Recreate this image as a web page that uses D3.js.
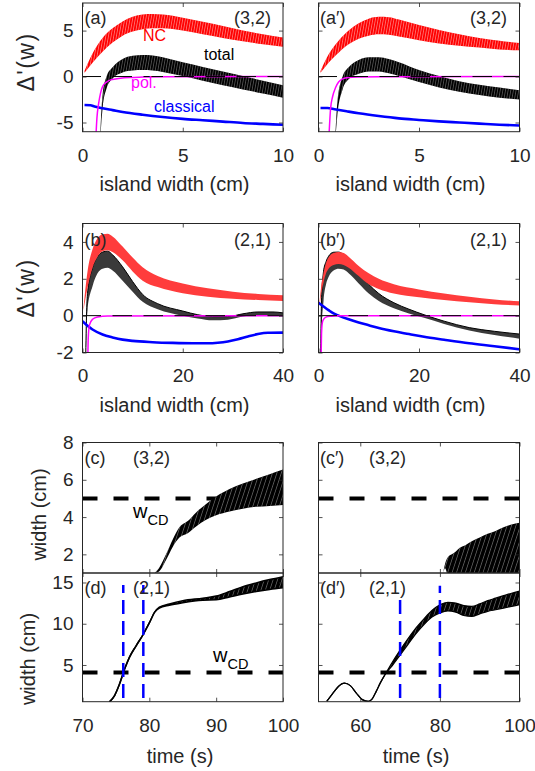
<!DOCTYPE html>
<html>
<head>
<meta charset="utf-8">
<script src="https://cdn.jsdelivr.net/npm/d3@7"></script>
<style>
  body { margin: 0; background: #fff; }
  svg text { font-family: "Liberation Sans", Arial, Helvetica, sans-serif; fill: #262626; }
</style>
</head>
<body>
<svg id="fig" width="535" height="771"></svg>
<script>
// ---------------- (a) (3,2) mode, model 1 : Δ'(w) vs island width ----------------
const a_nc_w   = [0.1, 0.5, 1, 1.5, 2, 2.5, 3, 3.5, 4, 5, 6, 7, 8, 9, 10];
const a_nc_hi  = [0.6, 2.5, 4.2, 5.25, 6.0, 6.5, 6.75, 6.8, 6.75, 6.4, 5.95, 5.5, 5.0, 4.6, 4.25];
const a_nc_lo  = [0.4, 1.5, 2.7, 3.7, 4.45, 4.9, 5.15, 5.25, 5.25, 5.0, 4.6, 4.2, 3.85, 3.5, 3.25];
const a_tot_w  = [0.85, 1.0, 1.2, 1.5, 2, 2.5, 3, 3.5, 4, 5, 6, 7, 8, 9, 10];
const a_tot_hi = [-8, -2, 0, 1.0, 1.9, 2.25, 2.35, 2.3, 2.1, 1.55, 1.05, 0.55, 0.05, -0.45, -0.95];
const a_tot_lo = [-8, -3.5, -1.3, -0.2, 0.45, 0.65, 0.7, 0.65, 0.5, 0.05, -0.45, -0.95, -1.4, -1.85, -2.3];
const a_pol_w  = [0.67, 0.72, 0.8, 0.9, 1.0, 1.2, 1.4, 1.9, 2.5, 3, 4, 10];
const a_pol    = [-6.5, -4.5, -3.0, -1.8, -1.1, -0.6, -0.36, -0.18, -0.1, -0.05, -0.02, 0];
const a_cl_w   = [0.1, 0.4, 0.6, 1, 1.5, 2, 3, 4, 5, 6, 7, 8, 9, 10];
const a_cl     = [-3.1, -3.12, -3.25, -3.45, -3.65, -3.85, -4.15, -4.4, -4.6, -4.75, -4.9, -5.05, -5.15, -5.25];

// ---------------- (a') (3,2) mode, model 2 ----------------
const ap_nc_w   = [0.1, 0.5, 1, 1.5, 2, 2.5, 3, 3.5, 4, 5, 6, 7, 8, 9, 10];
const ap_nc_hi  = [0.6, 2.4, 3.9, 5.0, 5.8, 6.3, 6.5, 6.45, 6.2, 5.6, 5.05, 4.6, 4.2, 3.9, 3.65];
const ap_nc_lo  = [0.4, 1.5, 2.6, 3.5, 4.1, 4.45, 4.6, 4.55, 4.35, 3.95, 3.6, 3.35, 3.15, 2.95, 2.85];
const ap_tot_w  = [0.8, 0.95, 1.2, 1.5, 2, 2.5, 3, 3.5, 4, 5, 6, 7, 8, 9, 10];
const ap_tot_hi = [-8, -2.5, 0, 1.0, 1.8, 2.1, 2.1, 1.9, 1.55, 0.7, 0.05, -0.5, -0.9, -1.2, -1.5];
const ap_tot_lo = [-8, -4, -1.4, -0.3, 0.3, 0.55, 0.55, 0.35, 0.05, -0.6, -1.2, -1.65, -2.0, -2.3, -2.5];
const ap_pol_w  = [0.52, 0.6, 0.7, 0.85, 1.0, 1.2, 1.5, 2, 3, 10];
const ap_pol    = [-6.5, -3.5, -2.2, -1.2, -0.6, -0.25, -0.1, -0.05, -0.02, 0];
const ap_cl_w   = [0.1, 0.45, 0.8, 1.4, 2, 3, 4, 5, 6, 7, 8, 9, 10];
const ap_cl     = [-3.42, -3.42, -3.55, -3.78, -4.0, -4.3, -4.55, -4.72, -4.88, -5.0, -5.12, -5.24, -5.33];

// ---------------- (b) (2,1) mode, model 1 ----------------
const b_nc_w   = [0.2, 1, 2, 3, 4, 5, 6, 8, 10, 12, 15, 20, 25, 30, 35, 40];
const b_nc_hi  = [0.4, 2.4, 3.6, 4.2, 4.42, 4.45, 4.3, 3.75, 3.15, 2.62, 2.15, 1.75, 1.48, 1.3, 1.18, 1.1];
const b_nc_lo  = [0.3, 1.5, 2.6, 3.2, 3.5, 3.55, 3.45, 3.0, 2.4, 1.9, 1.55, 1.22, 1.03, 0.92, 0.85, 0.8];
const b_tot_w  = [0.6, 0.8, 1, 2, 3, 4, 5, 6, 8, 10, 12, 15, 20, 23, 26, 29, 32, 35, 38, 40];
const b_tot_hi = [-3, 0, 1.2, 2.6, 3.2, 3.45, 3.5, 3.3, 2.65, 1.85, 1.15, 0.65, 0.25, 0.05, -0.05, -0.05, 0.1, 0.2, 0.2, 0.15];
const b_tot_lo = [-3, -0.8, 0.3, 1.6, 2.3, 2.55, 2.6, 2.45, 1.9, 1.3, 0.75, 0.35, 0.0, -0.15, -0.25, -0.22, -0.05, 0.03, 0.03, 0.0];
const b_pol_w  = [1.05, 1.15, 1.4, 2, 3, 5, 40];
const b_pol    = [-2.5, -1.2, -0.5, -0.2, -0.07, -0.02, 0];
const b_cl_w   = [0, 1, 2, 4, 6, 8, 10, 14, 18, 22, 25, 27, 29, 31, 33, 35, 37, 40];
const b_cl     = [-0.3, -0.55, -0.75, -1.02, -1.18, -1.3, -1.37, -1.44, -1.48, -1.5, -1.5, -1.47, -1.4, -1.28, -1.13, -1.0, -0.93, -0.92];

// ---------------- (b') (2,1) mode, model 2 ----------------
const bp_nc_w   = [0.2, 0.5, 1, 1.5, 2, 3, 4, 5, 6, 8, 10, 12, 15, 20, 25, 30, 35, 40];
const bp_nc_hi  = [0.7, 1.5, 2.3, 2.85, 3.15, 3.4, 3.45, 3.4, 3.2, 2.7, 2.3, 2.0, 1.7, 1.42, 1.2, 1.02, 0.88, 0.78];
const bp_nc_lo  = [0.5, 1.1, 1.8, 2.3, 2.55, 2.75, 2.8, 2.75, 2.6, 2.15, 1.7, 1.45, 1.2, 1.0, 0.85, 0.72, 0.62, 0.55];
const bp_tot_w  = [0.4, 0.6, 1, 1.5, 2, 3, 4, 5, 6, 8, 10, 12, 15, 18, 21, 25, 30, 35, 40];
const bp_tot_hi = [-3, 0.8, 2.4, 2.93, 3.22, 3.44, 3.45, 3.3, 3.05, 2.35, 1.7, 1.2, 0.7, 0.35, 0.05, -0.3, -0.65, -0.85, -1.0];
const bp_tot_lo = [-3, -1, 0.8, 1.7, 2.1, 2.45, 2.55, 2.5, 2.3, 1.75, 1.2, 0.8, 0.4, 0.12, -0.12, -0.45, -0.8, -1.05, -1.25];
const bp_pol_w  = [0.5, 0.6, 0.75, 1, 1.5, 2.5, 4, 40];
const bp_pol    = [-2.5, -1.0, -0.4, -0.2, -0.08, -0.03, 0, 0];
const bp_cl_w   = [0, 1, 2, 3, 4, 6, 8, 10, 12, 15, 18, 21, 25, 30, 35, 40];
const bp_cl     = [0.7, 0.5, 0.3, 0.12, 0.0, -0.2, -0.37, -0.52, -0.67, -0.85, -1.0, -1.15, -1.31, -1.5, -1.66, -1.83];

// ---------------- (c), (c') (3,2) island width vs time ----------------
const c_t   = [80.8, 81.5, 82.5, 83.5, 84.5, 85.8, 87, 88.5, 90, 92, 94, 96, 98, 100];
const c_hi  = [1.0, 1.3, 2.0, 2.8, 3.45, 3.8, 4.25, 4.7, 5.1, 5.5, 5.8, 6.05, 6.3, 6.55];
const c_lo  = [1.0, 1.1, 1.7, 2.4, 2.9, 3.15, 3.5, 3.85, 4.1, 4.3, 4.45, 4.55, 4.6, 4.65];
const cp_t  = [80.8, 81.3, 82, 83, 84, 85, 86.5, 88, 90, 92, 94, 96, 98, 100];
const cp_hi = [1.0, 1.5, 1.85, 2.0, 2.15, 2.35, 2.5, 2.7, 2.9, 3.1, 3.25, 3.45, 3.6, 3.7];
const cp_lo = [1.0, 1.25, 0.9, 0.9, 0.9, 0.9, 0.9, 0.9, 0.9, 0.9, 0.9, 0.9, 0.9, 0.9];
const c_wcd = 5;

// ---------------- (d), (d') (2,1) island width vs time ----------------
const d_t   = [74, 74.8, 75.5, 76.3, 77, 78, 79, 80, 80.8, 81.5, 83, 85, 88, 90, 92, 94, 96, 98, 100];
const d_hi  = [0.5, 1.3, 2.6, 4.5, 5.9, 7.3, 8.6, 10.1, 11.4, 12.0, 12.4, 12.8, 13.1, 13.35, 13.9, 14.5, 14.95, 15.35, 15.7];
const d_lo  = [0.5, 1.3, 2.6, 4.5, 5.9, 7.3, 8.6, 10.1, 11.4, 11.9, 12.25, 12.55, 12.85, 12.9, 13.25, 13.6, 13.9, 14.15, 14.35];
const dp_t  = [51.6, 53, 54.5, 56, 57.5, 59, 60.5, 62, 63, 64, 65, 66.3, 68, 70, 72, 74, 76, 78, 80, 82, 84, 86, 88, 90, 92, 94, 96, 98, 100];
const dp_hi = [0.6, 1.5, 2.4, 2.8, 2.5, 1.6, 0.8, 0.6, 0.9, 1.8, 2.8, 3.9, 5.3, 6.8, 8.2, 9.5, 10.6, 11.6, 12.3, 12.6, 12.5, 12.2, 12.1, 12.4, 12.8, 13.1, 13.4, 13.7, 13.95];
const dp_lo = [0.6, 1.5, 2.4, 2.8, 2.5, 1.6, 0.8, 0.6, 0.9, 1.8, 2.8, 3.9, 4.9, 6.2, 7.5, 8.8, 9.9, 10.8, 11.3, 11.55, 11.4, 11.0, 10.9, 11.2, 11.5, 11.7, 11.9, 12.1, 12.3];
const d_wcd = 4.1;
const d_marks   = [76.1, 79.1];   // blue markers, left
const dp_marks  = [70, 80];       // blue markers, right
const d_mark_lo = 1.0, d_mark_hi = [14.7, 14.7], dp_mark_hi = [13.5, 14.6];

// ---------------- tick values ----------------
const tickW_a = [0, 5, 10], tickD_a = [-5, 0, 5];
const tickW_b = [0, 20, 40], tickD_b = [-2, 0, 2, 4];
const tickT_L = [70, 80, 90, 100], tickT_R = [60, 80, 100];
const tickW_c = [2, 4, 6, 8], tickW_d = [5, 10, 15];

// ---------------- layout ----------------
const COL_L = [82.5, 283], COL_R = [318.5, 519.5];
const ROW_A = [3, 131.7], ROW_B = [223.5, 352.5], ROW_C = [442.5, 573], ROW_D = [573, 701.7];
const INK = "#262626";
const FONT = '"Liberation Sans", Arial, Helvetica, sans-serif';

const svg = d3.select("#fig");
const defs = svg.append("defs");

function hatch(id, period, angle, color, op, sw) {
  const pat = defs.append("pattern").attr("id", id)
    .attr("patternUnits", "userSpaceOnUse")
    .attr("width", period).attr("height", period)
    .attr("patternTransform", `rotate(${angle})`);
  pat.append("line")
    .attr("x1", period / 2).attr("x2", period / 2)
    .attr("y1", -1).attr("y2", period + 1)
    .attr("stroke", color).attr("stroke-opacity", op).attr("stroke-width", sw);
}
hatch("hRed", 2.6, 10, "#ffffff", 0.55, 0.7);
hatch("hBlk", 2.6, 10, "#ffffff", 0.45, 0.6);
hatch("hTime", 4.2, 18, "#bbbbbb", 0.8, 0.5);

let clipN = 0;
function panel(cols, rows, xd, yd) {
  const [x0, x1] = cols, [y0, y1] = rows;
  const x = d3.scaleLinear().domain(xd).range([x0, x1]);
  const y = d3.scaleLinear().domain(yd).range([y1, y0]);
  const id = "clip" + (clipN++);
  defs.append("clipPath").attr("id", id).append("rect")
    .attr("x", x0).attr("y", y0).attr("width", x1 - x0).attr("height", y1 - y0);
  const g = svg.append("g");
  const plot = g.append("g").attr("clip-path", `url(#${id})`);
  return { x, y, g, plot, x0, x1, y0, y1 };
}

function band(p, xs, hi, lo, fill, pat, edge) {
  const rows = xs.map((v, i) => ({ x: v, hi: hi[i], lo: lo[i] }));
  const area = d3.area().x(d => p.x(d.x)).y0(d => p.y(d.lo)).y1(d => p.y(d.hi))
    .curve(d3.curveMonotoneX);
  p.plot.append("path").datum(rows).attr("d", area).attr("fill", fill);
  if (pat) p.plot.append("path").datum(rows).attr("d", area).attr("fill", `url(#${pat})`);
  if (edge) {
    const top = d3.line().x(d => p.x(d.x)).y(d => p.y(d.hi)).curve(d3.curveMonotoneX);
    const bot = d3.line().x(d => p.x(d.x)).y(d => p.y(d.lo)).curve(d3.curveMonotoneX);
    p.plot.append("path").datum(rows).attr("d", top).attr("fill", "none")
      .attr("stroke", edge.color).attr("stroke-width", edge.width);
    if (edge.both) p.plot.append("path").datum(rows).attr("d", bot).attr("fill", "none")
      .attr("stroke", edge.color).attr("stroke-width", edge.width);
  }
}

function curve(p, xs, ys, color, width) {
  const rows = xs.map((v, i) => ({ x: v, y: ys[i] }));
  p.plot.append("path").datum(rows)
    .attr("d", d3.line().x(d => p.x(d.x)).y(d => p.y(d.y)).curve(d3.curveMonotoneX))
    .attr("fill", "none").attr("stroke", color).attr("stroke-width", width)
    .attr("stroke-linejoin", "round");
}

function hline(p, v, color, width, dash, offset) {
  p.plot.append("line")
    .attr("x1", p.x0).attr("x2", p.x1).attr("y1", p.y(v)).attr("y2", p.y(v))
    .attr("stroke", color).attr("stroke-width", width)
    .attr("stroke-dasharray", dash || null).attr("stroke-dashoffset", offset || 0);
}

function vline(p, t, lo, hi, color, width, dash) {
  p.plot.append("line")
    .attr("x1", p.x(t)).attr("x2", p.x(t)).attr("y1", p.y(lo)).attr("y2", p.y(hi))
    .attr("stroke", color).attr("stroke-width", width).attr("stroke-dasharray", dash);
}

const fmt = d => String(d);
function axes(p, xt, yt, showX, showY) {
  const style = sel => {
    sel.select(".domain").remove();
    sel.attr("color", INK).attr("font-size", 19).attr("font-family", FONT);
    sel.selectAll(".tick line").attr("stroke-width", 0.8);
  };
  p.g.append("g").attr("transform", `translate(0,${p.y1})`)
    .call(d3.axisBottom(p.x).tickValues(xt).tickSize(-4).tickPadding(16.5).tickFormat(showX ? fmt : ""))
    .call(style);
  p.g.append("g").attr("transform", `translate(0,${p.y0})`)
    .call(d3.axisTop(p.x).tickValues(xt).tickSize(-4).tickFormat("")).call(style);
  p.g.append("g").attr("transform", `translate(${p.x0},0)`)
    .call(d3.axisLeft(p.y).tickValues(yt).tickSize(-4).tickPadding(9).tickFormat(showY ? fmt : ""))
    .call(style);
  p.g.append("g").attr("transform", `translate(${p.x1},0)`)
    .call(d3.axisRight(p.y).tickValues(yt).tickSize(-4).tickFormat("")).call(style);
  p.g.append("rect").attr("x", p.x0).attr("y", p.y0)
    .attr("width", p.x1 - p.x0).attr("height", p.y1 - p.y0)
    .attr("fill", "none").attr("stroke", INK).attr("stroke-width", 1);
}

function label(x, y, str, size, color, anchor) {
  return svg.append("text").attr("x", x).attr("y", y).attr("font-size", size)
    .attr("text-anchor", anchor || "start").style("fill", color || INK).text(str);
}

function ylabel(x, y, str, size, spacing) {
  svg.append("text").attr("transform", `translate(${x},${y}) rotate(-90)`)
    .attr("text-anchor", "middle").attr("font-size", size)
    .attr("letter-spacing", spacing || 0).style("fill", INK).text(str);
}

function wcdLabel(x, y) {
  const t = svg.append("text").attr("x", x).attr("y", y).style("fill", "#000");
  t.append("tspan").attr("font-size", 20).text("w");
  t.append("tspan").attr("font-size", 14.5).attr("dy", 7).text("CD");
}

const ZERO_DASH = "19.5 11.5";

// ---------------- Δ'(w) panels ----------------
function deltaPanel(cols, rows, xd, yd, d, xt, yt, showY, pats) {
  const p = panel(cols, rows, xd, yd);
  band(p, d.tw, d.thi, d.tlo, pats ? "#000" : "#3a3a3a", pats ? "hBlk" : null,
       pats ? null : { color: "#000", width: 1 });
  band(p, d.nw, d.nhi, d.nlo, pats ? "#ff0000" : "#ff3c3c", pats ? "hRed" : null, null);
  curve(p, d.cw, d.c, "#0000ff", 2.6);
  curve(p, d.pw, d.p, "#ff00ff", 1.5);
  hline(p, 0, "#000", 1, ZERO_DASH, 1);
  axes(p, xt, yt, true, showY);
  return p;
}

const pa = deltaPanel(COL_L, ROW_A, [0, 10], [-6, 8],
  { nw: a_nc_w, nhi: a_nc_hi, nlo: a_nc_lo, tw: a_tot_w, thi: a_tot_hi, tlo: a_tot_lo,
    pw: a_pol_w, p: a_pol, cw: a_cl_w, c: a_cl }, tickW_a, tickD_a, true, true);
const pap = deltaPanel(COL_R, ROW_A, [0, 10], [-6, 8],
  { nw: ap_nc_w, nhi: ap_nc_hi, nlo: ap_nc_lo, tw: ap_tot_w, thi: ap_tot_hi, tlo: ap_tot_lo,
    pw: ap_pol_w, p: ap_pol, cw: ap_cl_w, c: ap_cl }, tickW_a, tickD_a, false, true);
const pb = deltaPanel(COL_L, ROW_B, [0, 40], [-2, 5],
  { nw: b_nc_w, nhi: b_nc_hi, nlo: b_nc_lo, tw: b_tot_w, thi: b_tot_hi, tlo: b_tot_lo,
    pw: b_pol_w, p: b_pol, cw: b_cl_w, c: b_cl }, tickW_b, tickD_b, true, false);
const pbp = deltaPanel(COL_R, ROW_B, [0, 40], [-2, 5],
  { nw: bp_nc_w, nhi: bp_nc_hi, nlo: bp_nc_lo, tw: bp_tot_w, thi: bp_tot_hi, tlo: bp_tot_lo,
    pw: bp_pol_w, p: bp_pol, cw: bp_cl_w, c: bp_cl }, tickW_b, tickD_b, false, false);

// ---------------- width vs time panels ----------------
const pc = panel(COL_L, ROW_C, [70, 100], [1, 8]);
hline(pc, c_wcd, "#000", 4, "15 16");
band(pc, c_t, c_hi, c_lo, "#000", "hTime", null);
axes(pc, tickT_L, tickW_c, false, true);

const pcp = panel(COL_R, ROW_C, [49.5, 100], [1, 8]);
hline(pcp, c_wcd, "#000", 4, "15 16");
band(pcp, cp_t, cp_hi, cp_lo, "#000", "hTime", null);
axes(pcp, tickT_R, tickW_c, false, false);

const pd = panel(COL_L, ROW_D, [70, 100], [0.55, 16.15]);
hline(pd, d_wcd, "#000", 4, "15 16");
band(pd, d_t, d_hi, d_lo, "#000", "hTime", { color: "#000", width: 1.5, both: true });
d_marks.forEach((t, i) => vline(pd, t, d_mark_lo, d_mark_hi[i], "#0000ff", 2.5, "14 7"));
axes(pd, tickT_L, tickW_d, true, true);

const pdp = panel(COL_R, ROW_D, [49.5, 100], [0.55, 16.15]);
hline(pdp, d_wcd, "#000", 4, "15 16");
band(pdp, dp_t, dp_hi, dp_lo, "#000", "hTime", { color: "#000", width: 1.2, both: true });
dp_marks.forEach((t, i) => vline(pdp, t, d_mark_lo, dp_mark_hi[i], "#0000ff", 2.5, "14 7"));
axes(pdp, tickT_R, tickW_d, true, false);

// ---------------- text ----------------
label(84.5, 24, "(a)", 18);
label(271, 24, "(3,2)", 18, INK, "end");
label(320, 24, "(a\u2032)", 18);
label(507, 24, "(3,2)", 18, INK, "end");
label(84.5, 245.5, "(b)", 18);
label(271, 245.5, "(2,1)", 18, INK, "end");
label(320, 245.5, "(b\u2032)", 18);
label(507, 245.5, "(2,1)", 18, INK, "end");
label(84.5, 464, "(c)", 18);
label(133, 464, "(3,2)", 18);
label(320, 464, "(c\u2032)", 18);
label(369, 464, "(3,2)", 18);
label(84.5, 594, "(d)", 18);
label(133, 594, "(2,1)", 18);
label(320, 594, "(d\u2032)", 18);
label(369, 594, "(2,1)", 18);

label(143, 41, "NC", 16, "#ff0000");
label(204, 60, "total", 16, "#000");
label(131, 88, "pol.", 16, "#ff00ff");
label(154, 111.5, "classical", 16, "#0000ff");

wcdLabel(133, 518);
wcdLabel(213, 661.5);

label(174.5, 190.7, "island width (cm)", 20, INK, "middle");
label(410.5, 190.7, "island width (cm)", 20, INK, "middle");
label(174.5, 411.5, "island width (cm)", 20, INK, "middle");
label(410.5, 411.5, "island width (cm)", 20, INK, "middle");
label(180, 762.5, "time (s)", 20, INK, "middle");
label(416, 762.5, "time (s)", 20, INK, "middle");

ylabel(34, 62, "\u0394'(w)", 23, 1.5);
ylabel(34, 288, "\u0394'(w)", 23, 1.5);
ylabel(46, 514.5, "width (cm)", 20);
ylabel(35, 659, "width (cm)", 20);
</script>
</body>
</html>
